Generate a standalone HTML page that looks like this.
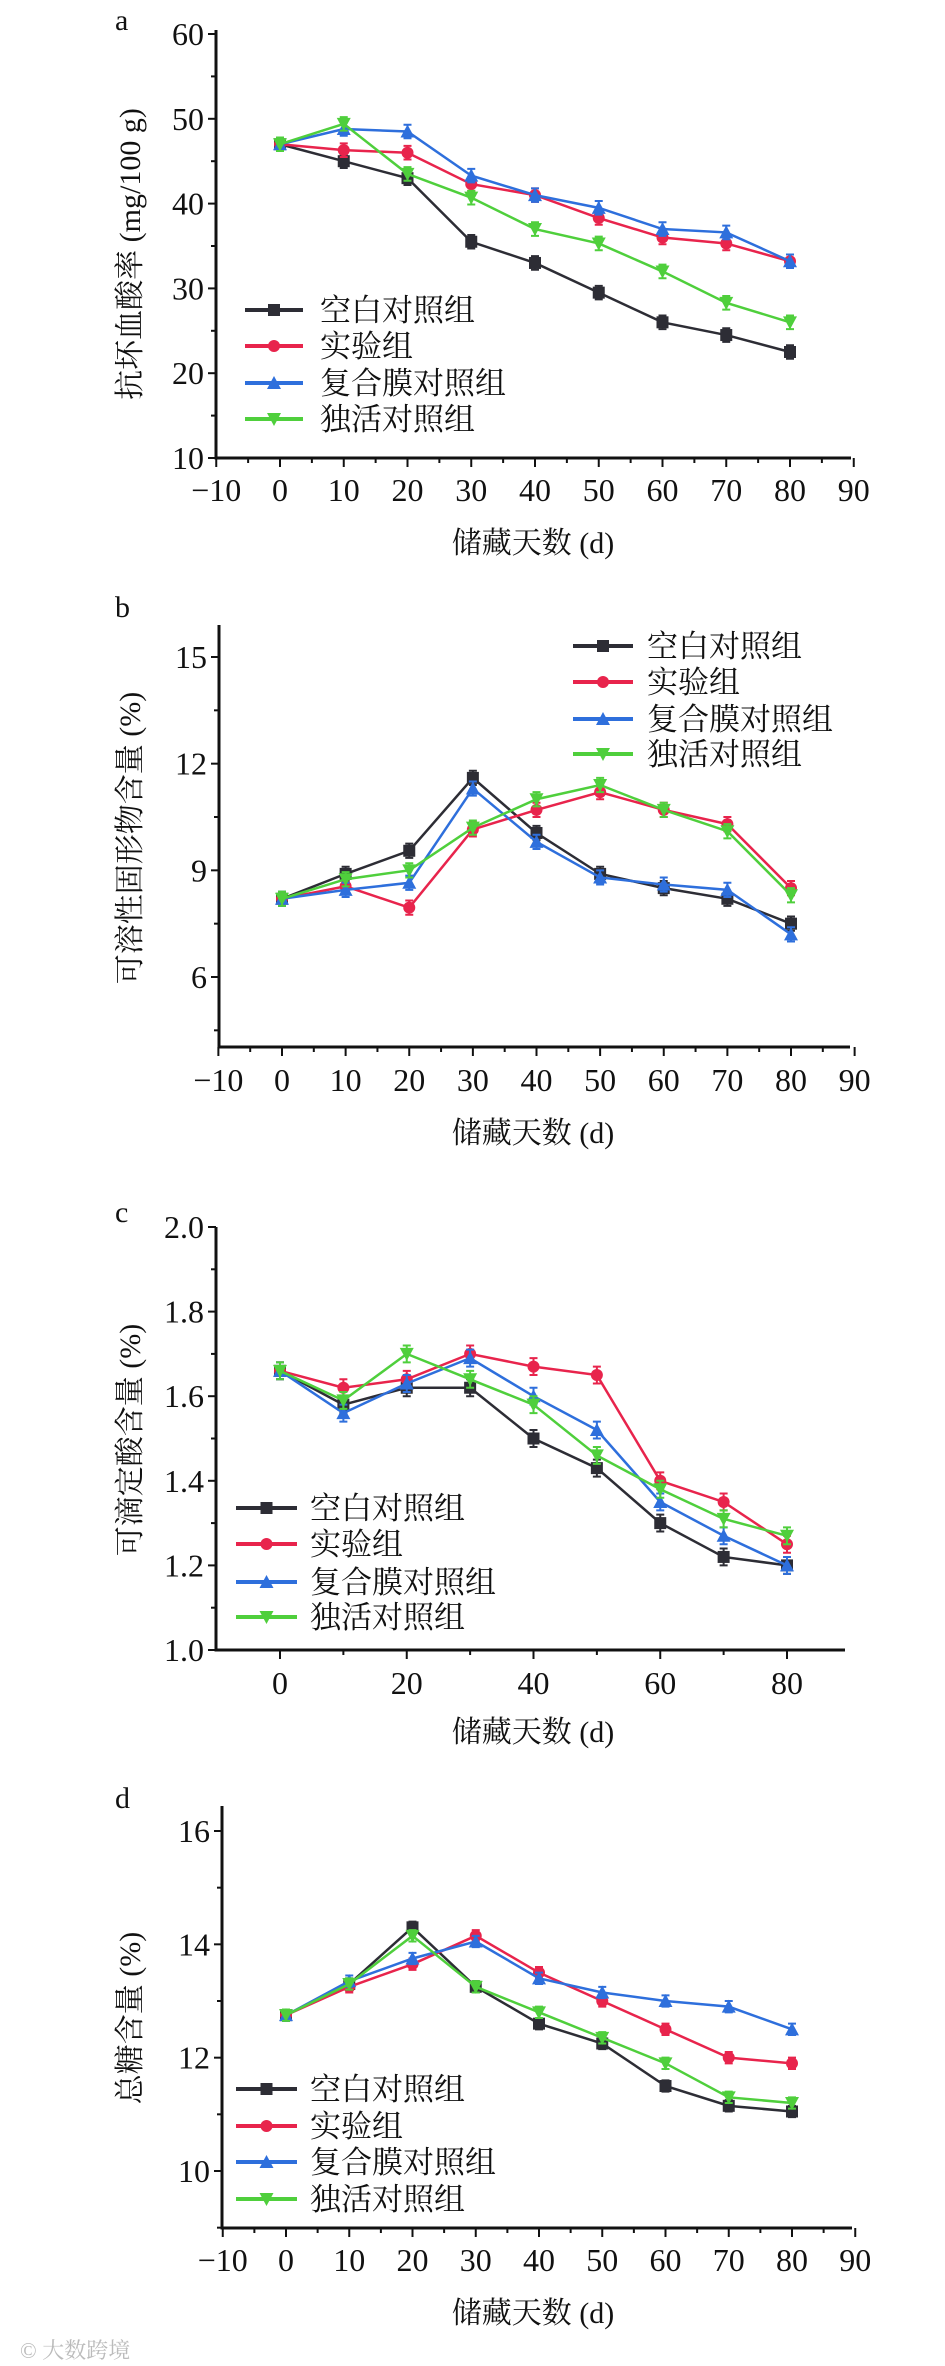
<!DOCTYPE html>
<html><head><meta charset="utf-8"><style>
html,body{margin:0;padding:0;background:#fff;}
svg{display:block;}
text{font-family:"Liberation Serif","Noto Serif CJK SC",serif;fill:#111;}
</style></head><body>
<svg id="fig" width="945" height="2366" viewBox="0 0 945 2366" xmlns="http://www.w3.org/2000/svg">
<text x="20" y="2358" font-size="22" style="fill:#bbb">© 大数跨境</text>
</svg>
<script>
const days = [0,10,20,30,40,50,60,70,80];
const seriesNames = ["空白对照组","实验组","复合膜对照组","独活对照组"];
const aBlack = [47,45,43,35.5,33,29.5,26,24.5,22.5];
const aRed = [47,46.3,46,42.3,41,38.3,36,35.3,33.2];
const aBlue = [47,48.8,48.5,43.3,41,39.5,37,36.6,33.2];
const aGreen = [47,49.4,43.5,40.7,37,35.3,32,28.3,26];
const bBlack = [8.2,8.9,9.55,11.6,10.05,8.9,8.5,8.2,7.5];
const bRed = [8.2,8.55,7.95,10.15,10.7,11.2,10.7,10.3,8.5];
const bBlue = [8.2,8.45,8.65,11.3,9.8,8.8,8.6,8.45,7.2];
const bGreen = [8.2,8.75,9.0,10.2,11.0,11.4,10.7,10.1,8.3];
const cBlack = [1.66,1.58,1.62,1.62,1.50,1.43,1.30,1.22,1.20];
const cRed = [1.66,1.62,1.64,1.70,1.67,1.65,1.40,1.35,1.25];
const cBlue = [1.66,1.56,1.63,1.69,1.60,1.52,1.35,1.27,1.20];
const cGreen = [1.66,1.59,1.70,1.64,1.58,1.46,1.38,1.31,1.27];
const dBlack = [12.75,13.3,14.3,13.25,12.6,12.25,11.5,11.15,11.05];
const dRed = [12.75,13.25,13.65,14.15,13.5,13.0,12.5,12.0,11.9];
const dBlue = [12.75,13.35,13.75,14.05,13.4,13.15,13.0,12.9,12.5];
const dGreen = [12.75,13.3,14.15,13.25,12.8,12.35,11.9,11.3,11.2];
const aYTicks = [10,20,30,40,50,60];
const bYTicks = [6,9,12,15];
const cYTicks = [1.0,1.2,1.4,1.6,1.8,2.0];
const dYTicks = [10,12,14,16];
const xTicksFull = [-10,0,10,20,30,40,50,60,70,80,90];
const xTicksC = [0,20,40,60,80];

const colors = ["#2d2d35","#e8244c","#2e6fdc","#4fcf3c"];
const markers = ["square","circle","up","down"];
const svg = document.getElementById('fig');
const NS = "http://www.w3.org/2000/svg";
function mk(tag, attrs, parent){const e=document.createElementNS(NS,tag);for(const k in attrs)e.setAttribute(k,attrs[k]);(parent||svg).appendChild(e);return e;}

function panel(cfg){
  const g = mk('g',{});
  
  
  const X = v => cfg.x0 + (v-cfg.xv0)*(cfg.x1-cfg.x0)/(cfg.xv1-cfg.xv0);
  const Y = v => cfg.y0 + (v-cfg.yv0)*(cfg.y1-cfg.y0)/(cfg.yv1-cfg.yv0);
  const lab = mk('text',{x:115,y:cfg.labY,'font-size':30},g); lab.textContent=cfg.id;
  
  
  // axes
  const yax = mk('line',{x1:cfg.axX,x2:cfg.axX,y1:cfg.axTop,y2:cfg.axBot+1.5,stroke:'#111','stroke-width':3},g);
  
  
  const xax = mk('line',{x1:cfg.axX,x2:cfg.axRight,y1:cfg.axBot,y2:cfg.axBot,stroke:'#111','stroke-width':3},g);
  
  
  cfg.yTicks.forEach((t)=>{
    const y=Y(t);
    mk('line',{x1:cfg.axX-8,x2:cfg.axX,y1:y,y2:y,stroke:'#111','stroke-width':2},g);
    const tx=mk('text',{x:cfg.axX-12,y:y+11,'font-size':32,'text-anchor':'end'},g);
    tx.textContent = cfg.yFmt ? t.toFixed(1) : t;
    
    
  });
  cfg.yMinor.forEach(t=>{const y=Y(t);mk('line',{x1:cfg.axX-5,x2:cfg.axX,y1:y,y2:y,stroke:'#111','stroke-width':2},g);});
  cfg.xTicks.forEach(t=>{
    const x=X(t);
    mk('line',{x1:x,x2:x,y1:cfg.axBot,y2:cfg.axBot+9,stroke:'#111','stroke-width':2},g);
    const tx=mk('text',{x:x,y:cfg.xLabY+11,'font-size':32,'text-anchor':'middle'},g);
    tx.textContent = t<0 ? '−'+(-t) : t;
    
    
  });
  cfg.xMinor.forEach(t=>{const x=X(t);mk('line',{x1:x,x2:x,y1:cfg.axBot,y2:cfg.axBot+5,stroke:'#111','stroke-width':2},g);});
  const xt=mk('text',{x:533,y:cfg.xTitleY+11,'font-size':30,'text-anchor':'middle'},g);
  xt.textContent='储藏天数 (d)';
  
  
  const yt=mk('text',{x:0,y:0,'font-size':30,'text-anchor':'middle',transform:`translate(140,${cfg.yTitleY}) rotate(-90)`},g);
  yt.textContent=cfg.yTitle;
  
  
  // series
  cfg.series.forEach((vals,si)=>{
    const sg = mk('g',{},g);
    
    
    const pts = vals.map((v,i)=>X(days[i])+','+Y(v)).join(' ');
    mk('polyline',{points:pts,fill:'none',stroke:colors[si],'stroke-width':2.5},sg);
    vals.forEach((v,i)=>{
      const x=X(days[i]), y=Y(v), e=Math.abs(Y(v+cfg.err)-y);
      mk('path',{d:`M${x},${y-e}V${y+e}M${x-4},${y-e}H${x+4}M${x-4},${y+e}H${x+4}`,stroke:colors[si],'stroke-width':2,fill:'none'},sg);
      const m = marker(markers[si],x,y,colors[si],sg);
      
      
    });
  });
  // legend
  seriesNames.forEach((n,i)=>{
    const y=cfg.legRows[i];
    const lg = mk('g',{},g);
    
    
    mk('line',{x1:cfg.legX0,x2:cfg.legX1,y1:y,y2:y,stroke:colors[i],'stroke-width':4},lg);
    marker(markers[i],(cfg.legX0+cfg.legX1)/2,y,colors[i],lg);
    const t=mk('text',{x:cfg.legText,y:y+11,'font-size':31},lg);
    t.textContent=n;
  });
}
function marker(type,x,y,c,p){
  const s=6;
  if(type==='square') return mk('rect',{x:x-s,y:y-s,width:2*s,height:2*s,fill:c},p);
  if(type==='circle') return mk('circle',{cx:x,cy:y,r:s,fill:c},p);
  if(type==='up') return mk('path',{d:`M${x},${y-s-1}L${x+s+1},${y+s}L${x-s-1},${y+s}Z`,fill:c},p);
  return mk('path',{d:`M${x},${y+s+1}L${x+s+1},${y-s}L${x-s-1},${y-s}Z`,fill:c},p);
}
panel({id:'a',labY:30,xv0:0,xv1:80,x0:280,x1:790,yv0:10,yv1:60,y0:458,y1:34,axX:216,axTop:30,axBot:458,axRight:851,
  yTicks:aYTicks,yMinor:[15,25,35,45,55],xTicks:xTicksFull,xMinor:[-5,5,15,25,35,45,55,65,75,85],xLabY:490,xTitleY:542,
  yTitle:'抗坏血酸率 (mg/100 g)',yTitleY:254,series:[aBlack,aRed,aBlue,aGreen],err:0.8,
  legX0:245,legX1:303,legText:320,legRows:[310,346,383,419]});
panel({id:'b',labY:617,xv0:0,xv1:80,x0:282,x1:791,yv0:6,yv1:15,y0:977,y1:657,axX:219,axTop:625,axBot:1047,axRight:850,
  yTicks:bYTicks,yMinor:[4.5,7.5,10.5,13.5],xTicks:xTicksFull,xMinor:[-5,5,15,25,35,45,55,65,75,85],xLabY:1080,xTitleY:1132,
  yTitle:'可溶性固形物含量 (%)',yTitleY:838,series:[bBlack,bRed,bBlue,bGreen],err:0.2,
  legX0:573,legX1:633,legText:647,legRows:[646,682,719,754]});
panel({id:'c',labY:1222,xv0:0,xv1:80,x0:280,x1:787,yv0:1.0,yv1:2.0,y0:1650,y1:1227,axX:216,axTop:1227,axBot:1650,axRight:845,yFmt:true,
  yTicks:cYTicks,yMinor:[1.1,1.3,1.5,1.7,1.9],xTicks:xTicksC,xMinor:[10,30,50,70],xLabY:1683,xTitleY:1731,
  yTitle:'可滴定酸含量 (%)',yTitleY:1440,series:[cBlack,cRed,cBlue,cGreen],err:0.02,
  legX0:236,legX1:297,legText:310,legRows:[1508,1544,1582,1617]});
panel({id:'d',labY:1808,xv0:0,xv1:80,x0:286,x1:792,yv0:10,yv1:16,y0:2171,y1:1831,axX:222,axTop:1806,axBot:2228,axRight:852,
  yTicks:dYTicks,yMinor:[9,11,13,15],xTicks:xTicksFull,xMinor:[-5,5,15,25,35,45,55,65,75,85],xLabY:2260,xTitleY:2312,
  yTitle:'总糖含量 (%)',yTitleY:2018,series:[dBlack,dRed,dBlue,dGreen],err:0.1,
  legX0:236,legX1:297,legText:310,legRows:[2089,2126,2162,2199]});
</script>
</body></html>
